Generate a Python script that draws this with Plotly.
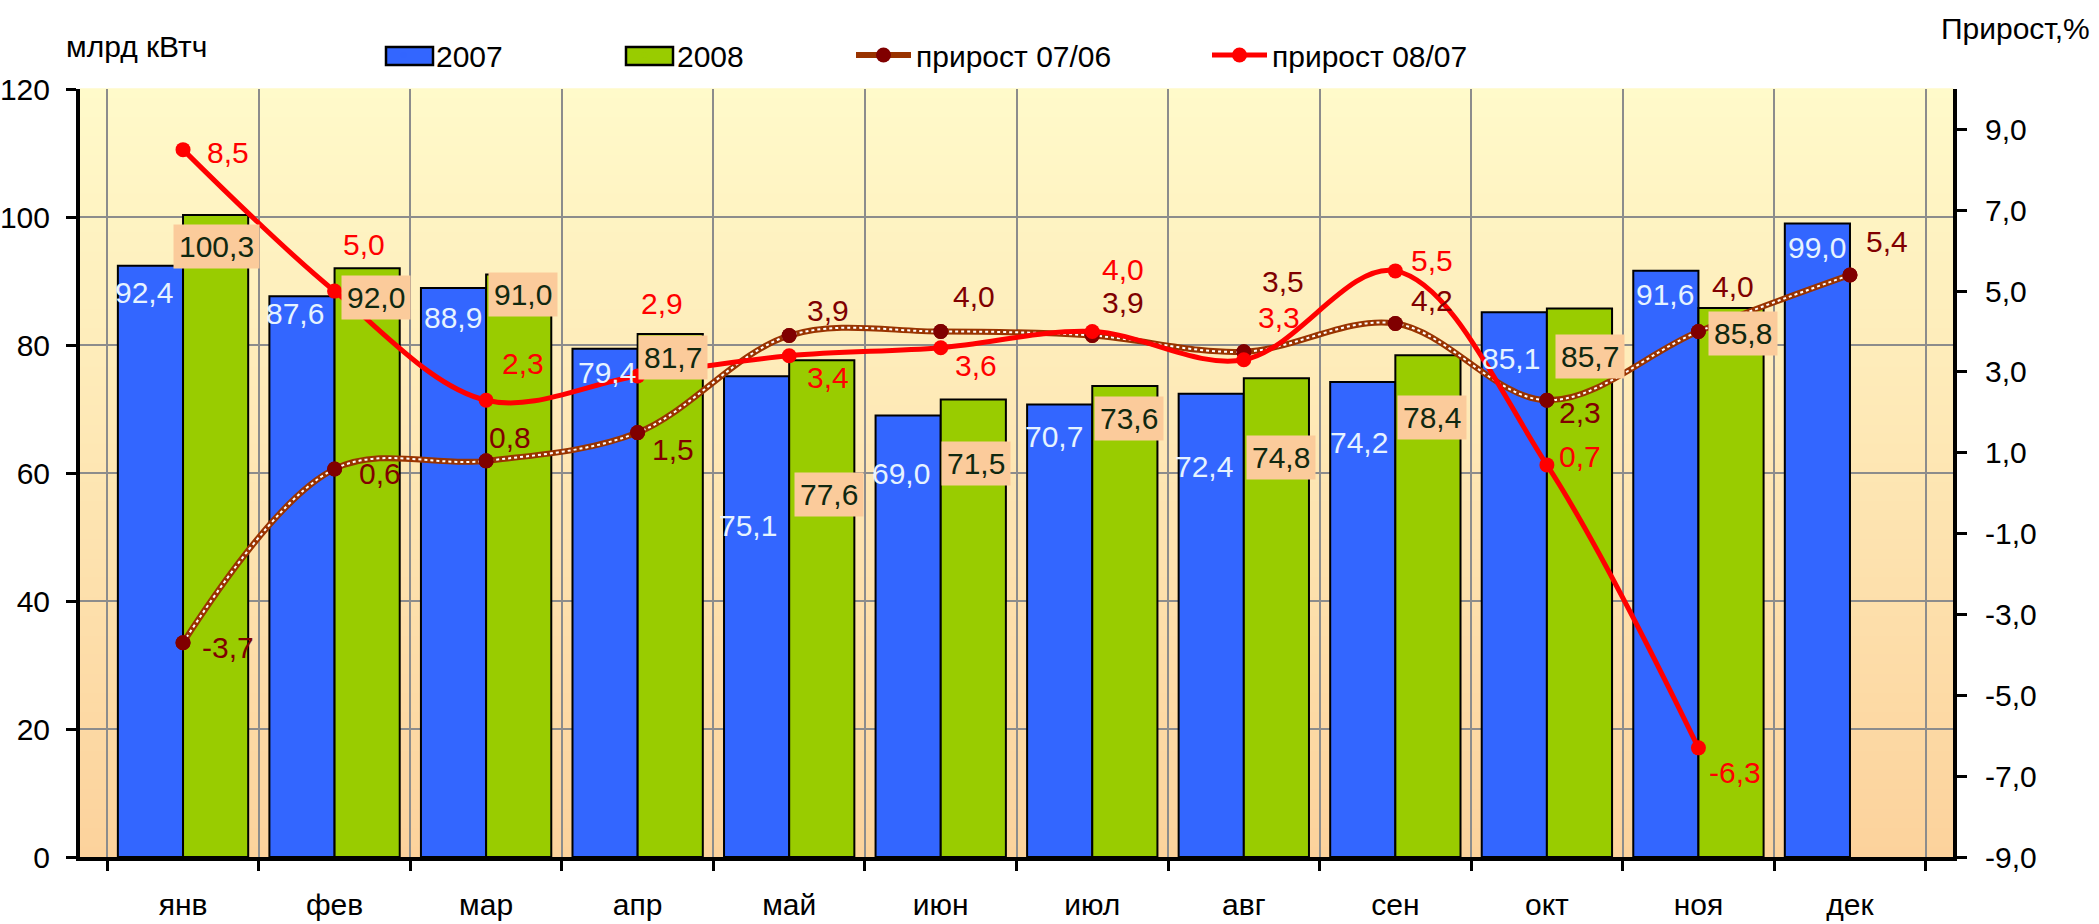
import plotly.graph_objects as go

# ---------------- data ----------------
months = ["янв", "фев", "мар", "апр", "май", "июн", "июл", "авг", "сен", "окт", "ноя", "дек"]
vals_2007 = [92.4, 87.6, 88.9, 79.4, 75.1, 69.0, 70.7, 72.4, 74.2, 85.1, 91.6, 99.0]
vals_2008 = [100.3, 92.0, 91.0, 81.7, 77.6, 71.5, 73.6, 74.8, 78.4, 85.7, 85.8, None]
growth_0706 = [-3.7, 0.6, 0.8, 1.5, 3.9, 4.0, 3.9, 3.5, 4.2, 2.3, 4.0, 5.4]
growth_0807 = [8.5, 5.0, 2.3, 2.9, 3.4, 3.6, 4.0, 3.3, 5.5, 0.7, -6.3, None]
left_ticks = [0, 20, 40, 60, 80, 100, 120]
right_ticks = [-9, -7, -5, -3, -1, 1, 3, 5, 7, 9]

# ---------------- styling (label nudges in px) ----------------
FONT = "Liberation Sans, Arial, sans-serif"
FS = 30
BLUE, GREEN = "#3366FF", "#99CC00"
drop_2007 = [27, 17, 29, 24, 149, 58, 32, 73, 60, 46, 24, 24]
dx_2007 = [-5, -6, 0, 3, -8, -6, -5, -6, -3, -2, 0, 1]
drop_2008 = [31, 29, 20, 23, 134, 64, 33, 79, 62, 48, 26, 0]
dx_2008 = [0, 8, 3, 2, 6, 2, 3, 4, 3, 10, 11, 0]
off_0706 = [(45, 5), (45, 5), (24, -23), (35, 17), (39, -25), (33, -35), (31, -33),
            (39, -70), (37, -23), (33, 12), (35, -45), (37, -33)]
off_0807 = [(45, 3), (29, -47), (37, -37), (24, -72), (39, 22), (35, 18), (31, -62),
            (35, -42), (37, -10), (33, -8), (37, 25), (0, 0)]

W, H = 2099, 924
ML, MR, MT, MB = 80, 146, 89, 67
plot_w = W - ML - MR
plot_h = H - MT - MB
cat_w = plot_w / len(months)
BARGAP = 0.14
bar_half = cat_w * (1 - BARGAP) / 4  # offset from category centre to bar centre


def fmt(v):
    return f"{v:.1f}".replace(".", ",")


def px_x(px):
    return (px - ML) / plot_w


def px_y(py):
    return (H - py - MB) / plot_h


fig = go.Figure()

fig.add_trace(go.Bar(
    x=months, y=vals_2007, name="2007", showlegend=False,
    marker=dict(color=BLUE, line=dict(color="black", width=2)),
))
fig.add_trace(go.Bar(
    x=months, y=vals_2008, name="2008", showlegend=False,
    marker=dict(color=GREEN, line=dict(color="black", width=2)),
))
# legend entries for the bars (swatches drawn as wide rectangles below)
fig.add_trace(go.Scatter(x=[None], y=[None], name="2007", mode="markers",
                         marker=dict(color=BLUE, opacity=0), legend="legend"))
fig.add_trace(go.Scatter(x=[None], y=[None], name="2008", mode="markers",
                         marker=dict(color=GREEN, opacity=0), legend="legend2"))
# прирост 07/06 : brown line with white dots
fig.add_trace(go.Scatter(
    x=months, y=growth_0706, yaxis="y2", name="прирост 07/06",
    mode="lines+markers", line=dict(color="#993300", width=6, shape="spline", smoothing=1),
    marker=dict(color="#800000", size=15, symbol="circle"),
    legend="legend3",
))
fig.add_trace(go.Scatter(
    x=months, y=growth_0706, yaxis="y2", showlegend=False, hoverinfo="skip",
    mode="lines", line=dict(color="white", width=2, dash="dot", shape="spline", smoothing=1),
))
fig.add_trace(go.Scatter(
    x=months, y=growth_0706, yaxis="y2", showlegend=False, hoverinfo="skip",
    mode="markers", marker=dict(color="#800000", size=15, symbol="circle"),
))
fig.add_trace(go.Scatter(
    x=months, y=growth_0807, yaxis="y2", name="прирост 08/07",
    mode="lines+markers", line=dict(color="#FF0000", width=5, shape="spline", smoothing=1),
    marker=dict(color="#FF0000", size=15, symbol="circle"),
    legend="legend4",
))

annotations = []
for i, m in enumerate(months):
    v = vals_2007[i]
    if v is not None:
        annotations.append(dict(
            x=m, y=v, xref="x", yref="y", text=fmt(v), showarrow=False,
            xshift=-bar_half + dx_2007[i], yshift=-drop_2007[i],
            xanchor="center", yanchor="middle",
            font=dict(family=FONT, size=FS, color="#E6F3FF"),
        ))
    v = vals_2008[i]
    if v is not None:
        annotations.append(dict(
            x=m, y=v, xref="x", yref="y", text=fmt(v), showarrow=False,
            xshift=bar_half + dx_2008[i], yshift=-drop_2008[i],
            xanchor="center", yanchor="middle",
            bgcolor="#FBCB9B", borderpad=5,
            font=dict(family=FONT, size=FS, color="#102810"),
        ))
    v = growth_0706[i]
    if v is not None:
        annotations.append(dict(
            x=m, y=v, xref="x", yref="y2", text=fmt(v), showarrow=False,
            xshift=off_0706[i][0], yshift=-off_0706[i][1],
            xanchor="center", yanchor="middle",
            font=dict(family=FONT, size=FS, color="#800000"),
        ))
    v = growth_0807[i]
    if v is not None:
        annotations.append(dict(
            x=m, y=v, xref="x", yref="y2", text=fmt(v), showarrow=False,
            xshift=off_0807[i][0], yshift=-off_0807[i][1],
            xanchor="center", yanchor="middle",
            font=dict(family=FONT, size=FS, color="#FF0000"),
        ))

# axis titles
annotations.append(dict(x=px_x(136), y=px_y(46), xref="paper", yref="paper", text="млрд кВтч",
                        xanchor="center", yanchor="middle", showarrow=False,
                        font=dict(family=FONT, size=FS, color="black")))
annotations.append(dict(x=px_x(2015), y=px_y(28), xref="paper", yref="paper", text="Прирост,%",
                        xanchor="center", yanchor="middle", showarrow=False,
                        font=dict(family=FONT, size=FS, color="black")))

# background gradient (light yellow -> peach)
shapes = []
N = 80
top = (255, 250, 202)
bot = (252, 210, 156)
for k in range(N):
    t = (k + 0.5) / N
    c = tuple(int(round(top[j] + (bot[j] - top[j]) * t)) for j in range(3))
    shapes.append(dict(type="rect", xref="paper", yref="paper", x0=0, x1=1,
                       y0=1 - (k + 1) / N, y1=1 - k / N + 0.001,
                       fillcolor=f"rgb{c}", line=dict(width=0), layer="below"))

# legend swatches for bars
for (x0, x1), col in (((386, 433), BLUE), ((626, 673), GREEN)):
    shapes.append(dict(type="rect", xref="paper", yref="paper",
                       x0=px_x(x0), x1=px_x(x1), y0=px_y(65), y1=px_y(47),
                       fillcolor=col, line=dict(color="black", width=2.5), layer="above"))


def legend_at(px_left):
    return dict(x=px_x(px_left), y=px_y(55),
                xanchor="left", yanchor="middle", orientation="h",
                bgcolor="rgba(0,0,0,0)", font=dict(family=FONT, size=FS, color="black"),
                itemwidth=55)


right_text = [fmt(v) for v in right_ticks]

fig.update_layout(
    width=W, height=H,
    margin=dict(l=ML, r=MR, t=MT, b=MB, autoexpand=False),
    paper_bgcolor="white", plot_bgcolor="rgba(0,0,0,0)",
    separators=", ",
    barmode="group", bargap=BARGAP, bargroupgap=0,
    font=dict(family=FONT, size=FS, color="black"),
    showlegend=True,
    legend=legend_at(371),
    legend2=legend_at(612),
    legend3=legend_at(851),
    legend4=legend_at(1207),
    xaxis=dict(
        type="category", tickson="boundaries", ticks="outside", ticklen=10, tickwidth=3,
        tickcolor="black", showline=True, linecolor="black", linewidth=4,
        showgrid=True, gridcolor="#8C8C8C", gridwidth=2, automargin=False,
        ticklabelstandoff=18, tickfont=dict(family=FONT, size=FS, color="black"),
    ),
    yaxis=dict(
        range=[0, 120], tickvals=left_ticks, ticks="outside", ticklen=10, tickwidth=3,
        tickcolor="black", showline=True, linecolor="black", linewidth=4,
        showgrid=True, gridcolor="#8C8C8C", gridwidth=2, zeroline=False, automargin=False,
        ticklabelstandoff=10, tickfont=dict(family=FONT, size=FS, color="black"),
    ),
    yaxis2=dict(
        range=[-9, 10], tickvals=right_ticks, ticktext=right_text, overlaying="y", side="right",
        ticks="outside", ticklen=10, tickwidth=3, tickcolor="black", automargin=False,
        showline=True, linecolor="black", linewidth=4, showgrid=False, zeroline=False,
        ticklabelstandoff=12, tickfont=dict(family=FONT, size=FS, color="black"),
    ),
    annotations=annotations,
    shapes=shapes,
)

fig.write_html(
    "out.html",
    config={"displayModeBar": False},
    post_script="document.body.style.margin='0';document.body.style.overflow='hidden';",
)
